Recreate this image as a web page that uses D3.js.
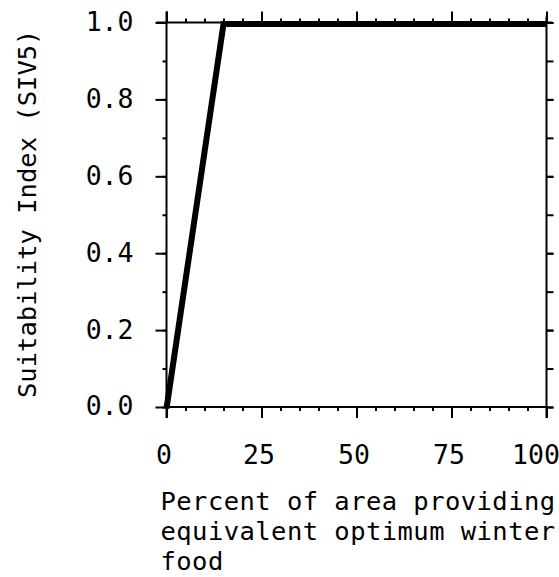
<!DOCTYPE html>
<html>
<head>
<meta charset="utf-8">
<script src="https://cdn.jsdelivr.net/npm/d3@7"></script>
<style>
  html, body { margin: 0; padding: 0; background: #fff; }
  svg text { font-family: "DejaVu Sans Mono", "Liberation Mono", monospace; fill: #000; }
</style>
</head>
<body>
<svg id="chart" width="559" height="577"></svg>
<script>
// Data
const xValues = [0, 15, 100];
const yValues = [0.0, 1.0, 1.0];
const xTickLabels = ["0", "25", "50", "75", "100"];
const xTickValues = [0, 25, 50, 75, 100];
const yTickValues = [0.0, 0.2, 0.4, 0.6, 0.8, 1.0];
const yTickLabels = ["0.0", "0.2", "0.4", "0.6", "0.8", "1.0"];
const xMinorValues = d3.range(0, 101, 5);
const yMinorValues = d3.range(0, 11, 1).map(d => d / 10);
const yTitle = "Suitability Index (SIV5)";
const xTitleLines = ["Percent of area providing", "equivalent optimum winter", "food"];

const svg = d3.select("#chart");
const mLeft = 166.5, mRight = 546.5, mTop = 22.5, mBottom = 407;

const x = d3.scaleLinear().domain([0, 100]).range([mLeft, mRight]);
const y = d3.scaleLinear().domain([0, 1]).range([mBottom, mTop]);

const axisStroke = 2;

// minor ticks
svg.append("g").attr("transform", `translate(0,${mBottom})`)
  .call(d3.axisBottom(x).tickValues(xMinorValues).tickSize(4).tickFormat(""))
  .call(g => g.select(".domain").remove())
  .call(g => g.selectAll("line").attr("stroke-width", axisStroke));
svg.append("g").attr("transform", `translate(0,${mTop})`)
  .call(d3.axisTop(x).tickValues(xMinorValues).tickSize(4).tickFormat(""))
  .call(g => g.select(".domain").remove())
  .call(g => g.selectAll("line").attr("stroke-width", axisStroke));
svg.append("g").attr("transform", `translate(${mLeft},0)`)
  .call(d3.axisLeft(y).tickValues(yMinorValues).tickSize(4).tickFormat(""))
  .call(g => g.select(".domain").remove())
  .call(g => g.selectAll("line").attr("stroke-width", axisStroke));
svg.append("g").attr("transform", `translate(${mRight},0)`)
  .call(d3.axisRight(y).tickValues(yMinorValues).tickSize(7).tickFormat(""))
  .call(g => g.select(".domain").remove())
  .call(g => g.selectAll("line").attr("stroke-width", axisStroke));

// major ticks
const xb = svg.append("g").attr("transform", `translate(0,${mBottom})`)
  .call(d3.axisBottom(x).tickValues(xTickValues).tickSize(11).tickPadding(27)
    .tickFormat((d, i) => xTickLabels[i]));
xb.select(".domain").attr("stroke-width", axisStroke).attr("d", `M${mLeft},0H${mRight}`);
xb.selectAll("line").attr("stroke-width", axisStroke);
xb.selectAll("text").attr("font-size", 26.5).attr("fill", "#000")
  .attr("dx", (d, i) => i === xTickLabels.length - 1 ? -11 : -3);

const xt = svg.append("g").attr("transform", `translate(0,${mTop})`)
  .call(d3.axisTop(x).tickValues(xTickValues).tickSize(11).tickFormat(""));
xt.select(".domain").attr("stroke-width", axisStroke).attr("d", `M${mLeft - 10},0H${mRight + 6}`);
xt.selectAll("line").attr("stroke-width", axisStroke);

const yl = svg.append("g").attr("transform", `translate(${mLeft},0)`)
  .call(d3.axisLeft(y).tickValues(yTickValues).tickSize(11).tickPadding(22)
    .tickFormat((d, i) => yTickLabels[i]));
yl.select(".domain").attr("stroke-width", axisStroke).attr("d", `M0,${mTop - 11}V${mBottom + 11}`);
yl.selectAll("line").attr("stroke-width", axisStroke);
yl.selectAll("text").attr("font-size", 26.5).attr("fill", "#000").attr("dy", "0.3em");

const yr = svg.append("g").attr("transform", `translate(${mRight},0)`)
  .call(d3.axisRight(y).tickValues(yTickValues).tickSize(7).tickFormat(""));
yr.select(".domain").attr("stroke-width", axisStroke).attr("d", `M0,${mTop - 6}V${mBottom + 11}`);
yr.selectAll("line").attr("stroke-width", axisStroke);

// data line
svg.append("path")
  .datum(xValues.map((d, i) => [d, yValues[i]]))
  .attr("fill", "none")
  .attr("stroke", "#000")
  .attr("stroke-width", 6)
  .attr("stroke-linejoin", "miter")
  .attr("d", d3.line().x(d => x(d[0])).y(d => y(d[1]) + 1.5));

// y title
svg.append("text")
  .attr("transform", `translate(36,${(mTop + mBottom) / 2 - 1}) rotate(-90)`)
  .attr("text-anchor", "middle")
  .attr("font-size", 25.5)
  .text(yTitle);

// x title
const xtitle = svg.append("text").attr("font-size", 25.5).attr("letter-spacing", 0.45);
xTitleLines.forEach((t, i) => {
  xtitle.append("tspan").attr("x", 160.5).attr("y", 510 + i * 30).text(t);
});
</script>
</body>
</html>
